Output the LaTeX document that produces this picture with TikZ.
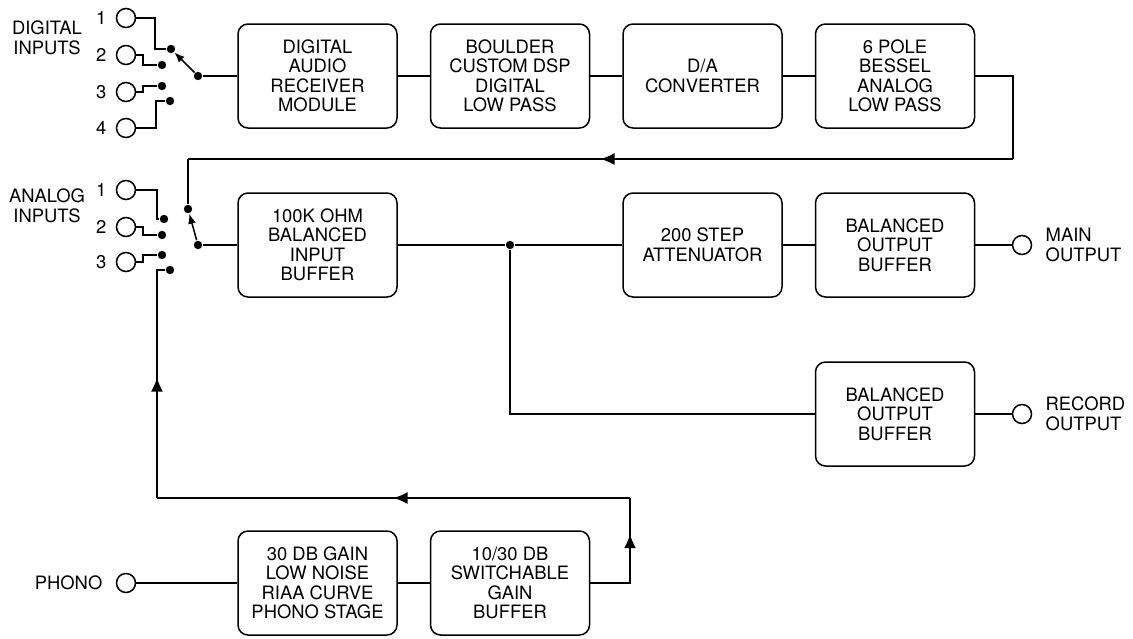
\documentclass[tikz,border=0pt]{standalone}
\usepackage{fontspec}
\setmainfont{TeX Gyre Heros}
\usetikzlibrary{positioning,arrows.meta,decorations.markings}

\begin{document}
\begin{tikzpicture}[x=0.5pt, y=-0.5pt, >={Latex[length=5pt,width=4pt]},
	line width=0.75pt, font=\fontsize{9.2}{9.75}\selectfont,
	blk/.style={draw, rounded corners=5pt, minimum width=79.5pt,
		minimum height=52pt, align=center, inner sep=2pt},
	term/.style={circle, draw, inner sep=0pt, minimum size=9.5pt},
	dot/.style={circle, fill=black, inner sep=0pt, minimum size=4.2pt},
	marr/.style={postaction={decorate}, decoration={markings,
		mark=at position #1 with {\arrow{Latex[length=7pt,width=6pt]}}}}]
	\useasboundingbox (0,0) rectangle (1133,638);

	\node[blk] (dar) at (317.5,76) {DIGITAL\\AUDIO\\RECEIVER\\MODULE};
	\node[blk] (dsp) at (510,76) {BOULDER\\CUSTOM DSP\\DIGITAL\\LOW PASS};
	\node[blk] (dac) at (702.5,76) {D/A\\CONVERTER};
	\node[blk] (bes) at (895,76) {6 POLE\\BESSEL\\ANALOG\\LOW PASS};

	\node[blk] (ibuf) at (317.5,245) {100K OHM\\BALANCED\\INPUT\\BUFFER};
	\node[blk] (att) at (702.5,245) {200 STEP\\ATTENUATOR};
	\node[blk] (mbuf) at (895,245) {BALANCED\\OUTPUT\\BUFFER};
	\node[blk] (rbuf) at (895,414) {BALANCED\\OUTPUT\\BUFFER};

	\node[blk] (pho) at (317.5,583) {30 DB GAIN\\LOW NOISE\\RIAA CURVE\\PHONO STAGE};
	\node[blk] (gain) at (510,583) {10/30 DB\\SWITCHABLE\\GAIN\\BUFFER};

	\node[align=center] (dig) at (47,38) {DIGITAL\\INPUTS};
	\node[term, label={[label distance=1pt]left:1}] (di1) at (126,18) {};
	\node[term, label={[label distance=1pt]left:2}] (di2) at (126,55) {};
	\node[term, label={[label distance=1pt]left:3}] (di3) at (126,92) {};
	\node[term, label={[label distance=1pt]left:4}] (di4) at (126,128) {};
	\node[dot] (d1) at (171,49) {};
	\node[dot] (d2) at (162,65) {};
	\node[dot] (d3) at (162,86) {};
	\node[dot] (d4) at (170,101) {};
	\node[dot] (dcom) at (198,76) {};

	\node[align=center] (ana) at (47,206) {ANALOG\\INPUTS};
	\node[term, label={[label distance=1pt]left:1}] (ai1) at (126,190) {};
	\node[term, label={[label distance=1pt]left:2}] (ai2) at (126,227) {};
	\node[term, label={[label distance=1pt]left:3}] (ai3) at (126,262) {};
	\node[dot] (a0) at (188,209) {};
	\node[dot] (a1) at (164,219) {};
	\node[dot] (a2) at (162,235) {};
	\node[dot] (a3) at (162,255) {};
	\node[dot] (a4) at (170,270) {};
	\node[dot] (acom) at (198,245) {};

	\node[dot] (j) at (510,245) {};
	\node[term] (mout) at (1022,245) {};
	\node[right=3pt of mout, align=left] (mol) {MAIN\\OUTPUT};
	\node[term] (rout) at (1022,414) {};
	\node[right=3pt of rout, align=left] (rol) {RECORD\\OUTPUT};
	\node[term] (phin) at (126,583) {};
	\node[left=3pt of phin] (phl) {PHONO};

	\coordinate (fbr) at (1013,159);
	\coordinate (fbl) at (a0 |- fbr);
	\coordinate (pr) at (630,498);
	\coordinate (pl) at (157,498);

	\draw (di1) -- ++(29,0) |- (d1);
	\draw (di2) -- ++(17,0) |- (d2);
	\draw (di3) -- ++(17,0) |- (d3);
	\draw (di4) -- ++(30,0) |- (d4);
	\draw[->] (dcom) -- (d1);
	\draw (dcom) -- (dar);
	\draw (dar) -- (dsp);
	\draw (dsp) -- (dac);
	\draw (dac) -- (bes);
	\draw (bes) -| (fbr);
	\draw[marr=0.5] (fbr) -- (fbl);
	\draw (fbl) -- (a0);

	\draw (ai1) -- ++(31,0) |- (a1);
	\draw (ai2) -- ++(17,0) |- (a2);
	\draw (ai3) -- ++(17,0) |- (a3);
	\draw[->] (acom) -- (a0);
	\draw (acom) -- (ibuf);
	\draw (ibuf) -- (j) -- (att);
	\draw (att) -- (mbuf);
	\draw (mbuf) -- (mout);
	\draw (j) |- (rbuf);
	\draw (rbuf) -- (rout);

	\draw (phin) -- (pho);
	\draw (pho) -- (gain);
	\draw[marr=0.71] (gain) -| (pr);
	\draw[marr=0.5] (pr) -- (pl);
	\draw[marr=0.51] (pl) |- (a4);
\end{tikzpicture}
\end{document}
